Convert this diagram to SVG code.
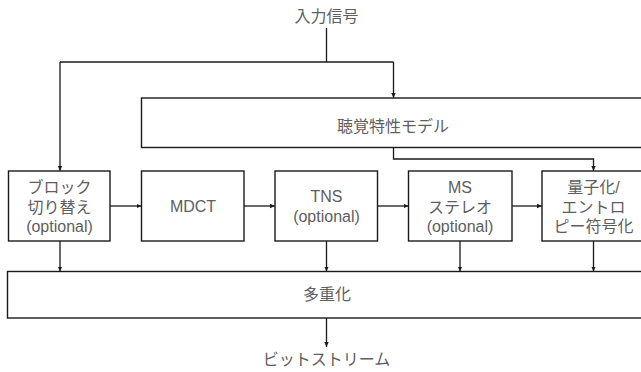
<svg xmlns="http://www.w3.org/2000/svg" width="641" height="372" viewBox="0 0 641 372">
<defs>
<style>
.box{fill:#fff;stroke:#1a1a1a;stroke-width:1.4}
.t{font-family:"Liberation Sans","Noto Sans CJK JP",sans-serif;font-size:16px;fill:#5e5e5e;text-anchor:middle;dominant-baseline:central}
.c{fill:none;stroke:#1a1a1a;stroke-width:1.3}
</style>
<marker id="ah" markerUnits="userSpaceOnUse" markerWidth="6" markerHeight="6" refX="5" refY="3" orient="auto">
<path d="M0,0.8 L5,3 L0,5.2 Z" fill="#1a1a1a"/>
</marker>
</defs>
<rect width="641" height="372" fill="#fff"/>
<g id="connectors">
<path class="c" d="M326.5,28 V62"/>
<path class="c" d="M60,62 H393.5"/>
<path class="c" d="M393.5,62 V98" marker-end="url(#ah)"/>
<path class="c" d="M60,62 V171" marker-end="url(#ah)"/>
<path class="c" d="M393.5,147.5 V159 H593.5 V171" marker-end="url(#ah)"/>
<path class="c" d="M110,206 H141.5" marker-end="url(#ah)"/>
<path class="c" d="M244,206 H275" marker-end="url(#ah)"/>
<path class="c" d="M377.5,206 H408.5" marker-end="url(#ah)"/>
<path class="c" d="M512,206 H542" marker-end="url(#ah)"/>
<path class="c" d="M60,241 V271.5" marker-end="url(#ah)"/>
<path class="c" d="M326.5,241 V271.5" marker-end="url(#ah)"/>
<path class="c" d="M460,241 V271.5" marker-end="url(#ah)"/>
<path class="c" d="M593.5,241 V271.5" marker-end="url(#ah)"/>
<path class="c" d="M326.5,318 V347" marker-end="url(#ah)"/>
</g>
<g id="input"><text class="t" x="326.5" y="16">入力信号</text></g>
<g id="psycho">
<rect class="box" x="141.5" y="98" width="503" height="49.5"/>
<text class="t" x="393" y="126">聴覚特性モデル</text>
</g>
<g id="blockswitch">
<rect class="box" x="8.5" y="171" width="101.5" height="70"/>
<text class="t" x="59.5" y="187">ブロック<tspan x="59.5" dy="19.5">切り替え</tspan><tspan x="59.5" dy="19.5">(optional)</tspan></text>
</g>
<g id="mdct">
<rect class="box" x="141.5" y="171" width="102.5" height="70"/>
<text class="t" x="193" y="206">MDCT</text>
</g>
<g id="tns">
<rect class="box" x="275" y="171" width="102.5" height="70"/>
<text class="t" x="326.5" y="196.5">TNS<tspan x="326.5" dy="19">(optional)</tspan></text>
</g>
<g id="ms">
<rect class="box" x="408.5" y="171" width="103.5" height="70"/>
<text class="t" x="460" y="187">MS<tspan x="460" dy="19.5">ステレオ</tspan><tspan x="460" dy="19.5">(optional)</tspan></text>
</g>
<g id="quant">
<rect class="box" x="542" y="171" width="103" height="70"/>
<text class="t" x="593.5" y="187">量子化/<tspan x="593.5" dy="19.5">エントロ</tspan><tspan x="593.5" dy="19.5">ピー符号化</tspan></text>
</g>
<g id="mux">
<rect class="box" x="7.5" y="271.5" width="640" height="46.5"/>
<text class="t" x="327" y="294">多重化</text>
</g>
<g id="output"><text class="t" x="326.5" y="359">ビットストリーム</text></g>
</svg>
